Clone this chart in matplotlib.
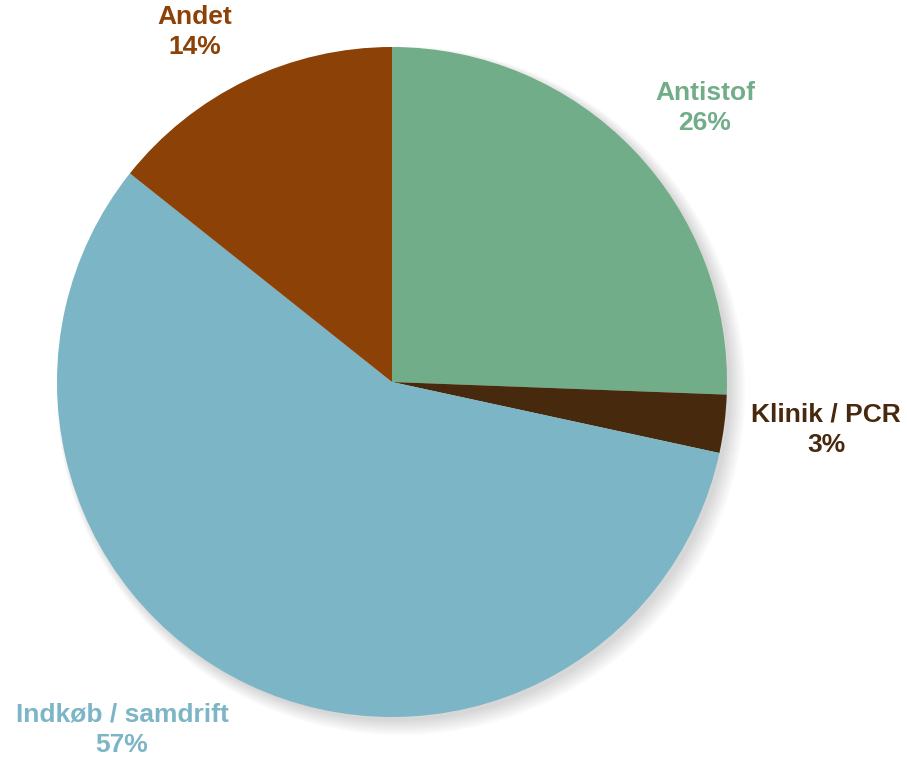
import matplotlib
matplotlib.use('Agg')
import matplotlib.pyplot as plt
from matplotlib.patches import Circle

labels = ['Antistof', 'Klinik / PCR', 'Indkøb / samdrift', 'Andet']
values = [25.6, 2.8, 57.3, 14.3]
colors = ['#71ad88', '#47290e', '#7bb5c6', '#8c4107']

# label placement (pie radius = 1)
label_pos = [(0.934, 0.818), (1.296, -0.143), (-0.806, -1.039), (-0.588, 1.045)]

fig = plt.figure(figsize=(9.07, 7.59), dpi=100)
ax = fig.add_axes([0, 0, 1, 1])

# soft shadow
for i in range(8):
    ax.add_patch(Circle((0.012 + i * 0.002, -0.012 - i * 0.002), 1.0 + i * 0.004,
                        color='black', alpha=0.02, lw=0, zorder=0))

wedges, _ = ax.pie(values, colors=colors, startangle=90, counterclock=False,
                   radius=1.0, wedgeprops=dict(linewidth=0))
for w in wedges:
    w.set_zorder(2)

total = sum(values)
for lab, v, c, (x, y) in zip(labels, values, colors, label_pos):
    ax.text(x, y, f'{lab}\n{round(v / total * 100):.0f}%', color=c,
            ha='center', va='center', fontsize=19, fontweight='bold',
            family=['Liberation Sans', 'DejaVu Sans'], linespacing=1.35)

ax.set_xlim(-392 / 335, 515 / 335)
ax.set_ylim(-377 / 335, 382 / 335)
ax.set_aspect('equal')
ax.axis('off')

plt.savefig('out.png', dpi=100)
